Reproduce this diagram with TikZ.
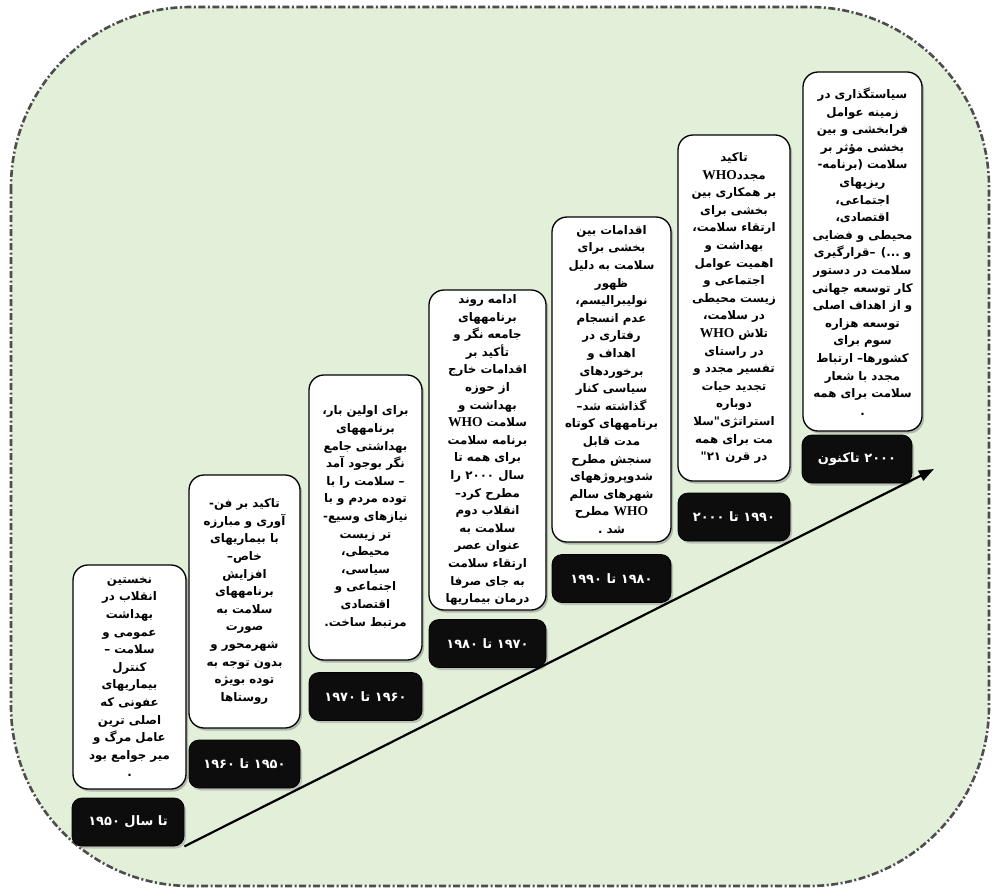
\documentclass[tikz,border=0pt]{standalone}
\usepackage{fontspec}
\usetikzlibrary{arrows.meta,shadows}
\TeXXeTstate=1
\newfontfamily\fa[Script=Arabic]{DejaVu Sans}
\newfontfamily\lat{Liberation Serif}
\newcommand\rln[1]{\beginR #1\endR}
\newcommand\who{\beginL{\lat\bfseries\fontsize{13.5}{17.5}\selectfont WHO}\endL}
\definecolor{bggreen}{HTML}{E2EFD9}
\definecolor{bgline}{HTML}{4D4D4D}
\tikzset{
  bgshape/.style={fill=bggreen, draw=bgline, line width=2.6pt, rounded corners=180pt,
    dash pattern=on 7pt off 2.5pt on 2pt off 2.5pt},
  txtbox/.style={draw=black, line width=1.3pt, fill=white, rounded corners=15pt, align=center,
    inner sep=0pt, font=\fa\bfseries\fontsize{11.8}{17.6}\selectfont,
    drop shadow={shadow xshift=2pt, shadow yshift=-2.5pt, fill=black!50}},
  yearbox/.style={draw=black, line width=0.8pt, fill=black!95, rounded corners=10pt, text=white,
    inner sep=0pt, minimum height=48pt, font=\fa\bfseries\fontsize{13}{15}\selectfont,
    drop shadow={shadow xshift=2pt, shadow yshift=-2.5pt, fill=black!40}},
  timeline/.style={line width=2.2pt, -{Triangle[length=15pt, width=11pt]}}
}
\begin{document}
\begin{tikzpicture}[x=1pt, y=-1pt]
\useasboundingbox (0,0) rectangle (992,889);
\draw[bgshape] (11,7) rectangle (989,886);

% white text boxes
\node[txtbox, minimum width=113pt, minimum height=224pt] (b1) at (129.5,677) {%
\rln{نخستین}\\ \rln{انقلاب در}\\ \rln{بهداشت}\\ \rln{عمومی و}\\ \rln{سلامت –}\\ \rln{کنترل}\\ \rln{بیماریهای}\\ \rln{عفونی که}\\ \rln{اصلی ترین}\\ \rln{عامل مرگ و}\\ \rln{میر جوامع بود}\\ \rln{.}};

\node[txtbox, minimum width=111pt, minimum height=253pt] (b2) at (244.5,601.5) {%
\rln{تاکید بر فن-}\\ \rln{آوری و مبارزه}\\ \rln{با بیماریهای}\\ \rln{خاص–}\\ \rln{افزایش}\\ \rln{برنامههای}\\ \rln{سلامت به}\\ \rln{صورت}\\ \rln{شهرمحور و}\\ \rln{بدون توجه به}\\ \rln{توده بویژه}\\ \rln{روستاها}};

\node[txtbox, minimum width=113pt, minimum height=285pt] (b3) at (365.5,517.5) {%
\rln{برای اولین بار،}\\ \rln{برنامههای}\\ \rln{بهداشتی جامع}\\ \rln{نگر بوجود آمد}\\ \rln{– سلامت را با}\\ \rln{توده مردم و با}\\ \rln{نیازهای وسیع-}\\ \rln{تر زیست}\\ \rln{محیطی،}\\ \rln{سیاسی،}\\ \rln{اجتماعی و}\\ \rln{اقتصادی}\\ \rln{مرتبط ساخت.}};

\node[txtbox, minimum width=117pt, minimum height=320pt] (b4) at (487.5,450) {%
\rln{ادامه روند}\\ \rln{برنامههای}\\ \rln{جامعه نگر و}\\ \rln{تأکید بر}\\ \rln{اقدامات خارج}\\ \rln{از حوزه}\\ \rln{بهداشت و}\\ \rln{سلامت \who}\\ \rln{برنامه سلامت}\\ \rln{برای همه تا}\\ \rln{سال ۲۰۰۰ را}\\ \rln{مطرح کرد–}\\ \rln{انقلاب دوم}\\ \rln{سلامت به}\\ \rln{عنوان عصر}\\ \rln{ارتقاء سلامت}\\ \rln{به جای صرفا}\\ \rln{درمان بیماریها}};

\node[txtbox, minimum width=119pt, minimum height=325pt] (b5) at (611.5,379.5) {%
\rln{اقدامات بین}\\ \rln{بخشی برای}\\ \rln{سلامت به دلیل}\\ \rln{ظهور}\\ \rln{نولیبرالیسم،}\\ \rln{عدم انسجام}\\ \rln{رفتاری در}\\ \rln{اهداف و}\\ \rln{برخوردهای}\\ \rln{سیاسی کنار}\\ \rln{گذاشته شد–}\\ \rln{برنامههای کوتاه}\\ \rln{مدت قابل}\\ \rln{سنجش مطرح}\\ \rln{شدوپروژههای}\\ \rln{شهرهای سالم}\\ \rln{\who{} مطرح}\\ \rln{شد .}};

\node[txtbox, minimum width=112pt, minimum height=346pt] (b6) at (734,308) {%
\rln{تاکید}\\ \rln{مجدد\who}\\ \rln{بر همکاری بین}\\ \rln{بخشی برای}\\ \rln{ارتقاء سلامت،}\\ \rln{بهداشت و}\\ \rln{اهمیت عوامل}\\ \rln{اجتماعی و}\\ \rln{زیست محیطی}\\ \rln{در سلامت،}\\ \rln{تلاش \who}\\ \rln{در راستای}\\ \rln{تفسیر مجدد و}\\ \rln{تجدید حیات}\\ \rln{دوباره}\\ \rln{استراتژی"سلا}\\ \rln{مت برای همه}\\ \rln{در قرن ۲۱"}};

\node[txtbox, minimum width=119pt, minimum height=359pt] (b7) at (862.5,251.5) {%
\rln{سیاستگذاری در}\\ \rln{زمینه عوامل}\\ \rln{فرابخشی و بین}\\ \rln{بخشی مؤثر بر}\\ \rln{سلامت (برنامه-}\\ \rln{ریزیهای}\\ \rln{اجتماعی،}\\ \rln{اقتصادی،}\\ \rln{محیطی و فضایی}\\ \rln{و ...) –قرارگیری}\\ \rln{سلامت در دستور}\\ \rln{کار توسعه جهانی}\\ \rln{و از اهداف اصلی}\\ \rln{توسعه هزاره}\\ \rln{سوم برای}\\ \rln{کشورها– ارتباط}\\ \rln{مجدد با شعار}\\ \rln{سلامت برای همه}\\ \rln{.}};

% black year labels
\node[yearbox, minimum width=112pt] (l1) at (128,822) {\rln{تا سال ۱۹۵۰}};
\node[yearbox, minimum width=111pt] (l2) at (244.5,764) {\rln{۱۹۵۰ تا ۱۹۶۰}};
\node[yearbox, minimum width=113pt] (l3) at (365.5,696.5) {\rln{۱۹۶۰ تا ۱۹۷۰}};
\node[yearbox, minimum width=117pt] (l4) at (487.5,643.5) {\rln{۱۹۷۰ تا ۱۹۸۰}};
\node[yearbox, minimum width=119pt] (l5) at (611.5,578.5) {\rln{۱۹۸۰ تا ۱۹۹۰}};
\node[yearbox, minimum width=112pt] (l6) at (734,517) {\rln{۱۹۹۰ تا ۲۰۰۰}};
\node[yearbox, minimum width=110pt] (l7) at (857,459) {\rln{۲۰۰۰ تاکنون}};

% timeline arrow
\coordinate (tip) at (934,469);
\draw[timeline] (l1.south east) -- (tip);
\end{tikzpicture}
\end{document}
